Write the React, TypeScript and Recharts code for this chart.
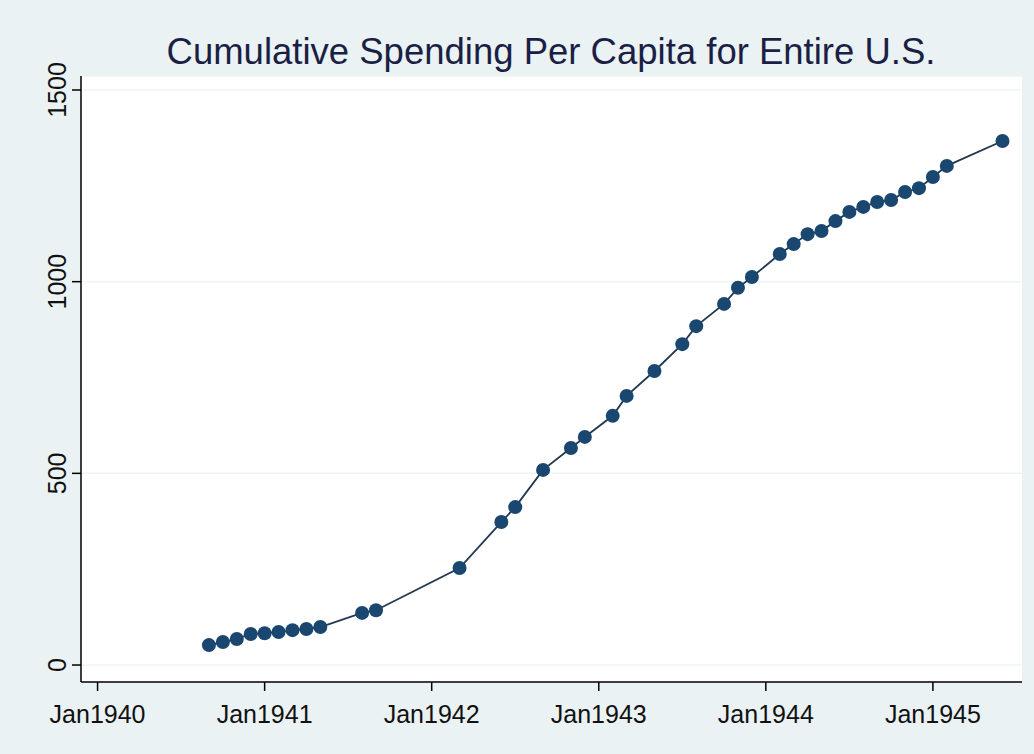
import React from "react";
import { LineChart, Line, XAxis, YAxis, CartesianGrid } from "recharts";

const months: string[] = [
  "1940-09", "1940-10", "1940-11", "1940-12",
  "1941-01", "1941-02", "1941-03", "1941-04", "1941-05", "1941-08", "1941-09",
  "1942-03", "1942-06", "1942-07", "1942-09", "1942-11", "1942-12",
  "1943-02", "1943-03", "1943-05", "1943-07", "1943-08", "1943-10", "1943-11", "1943-12",
  "1944-02", "1944-03", "1944-04", "1944-05", "1944-06", "1944-07", "1944-08", "1944-09",
  "1944-10", "1944-11", "1944-12",
  "1945-01", "1945-02", "1945-06",
];

const spending: number[] = [
  52, 60, 68, 81,
  83, 86, 91, 94, 99, 136, 143,
  253, 373, 412, 509, 566, 595,
  650, 702, 767, 837, 884, 942, 984, 1012,
  1072, 1098, 1124, 1132, 1158, 1182, 1195, 1208,
  1213, 1234, 1244,
  1273, 1302, 1367,
];

const xTicks: number[] = [0, 12, 24, 36, 48, 60];
const xTickLabels: string[] = ["Jan1940", "Jan1941", "Jan1942", "Jan1943", "Jan1944", "Jan1945"];
const yTicks: number[] = [0, 500, 1000, 1500];

const title = "Cumulative Spending Per Capita for Entire U.S.";

const monthIndex = (s: string) => {
  const [y, m] = s.split("-").map(Number);
  return (y - 1940) * 12 + (m - 1);
};

const data = months.map((d, i) => ({ m: monthIndex(d), v: spending[i] }));

const NAVY = "#1A476F";
const FONT = '"Liberation Sans", Arial, Helvetica, sans-serif';

const XTick = (props: any) => {
  const { x, payload } = props;
  const idx = xTicks.indexOf(payload.value);
  return (
    <text x={x} y={723} textAnchor="middle" fontSize={25} fill="#111" fontFamily={FONT}>
      {idx >= 0 ? xTickLabels[idx] : ""}
    </text>
  );
};

const YTick = (props: any) => {
  const { y, payload } = props;
  const bx = 66;
  return (
    <text
      x={bx}
      y={y}
      textAnchor="middle"
      fontSize={25}
      fill="#111"
      fontFamily={FONT}
      transform={`rotate(-90, ${bx}, ${y})`}
    >
      {payload.value}
    </text>
  );
};

export default function App() {
  return (
    <div
      style={{
        position: "absolute",
        left: 0,
        top: 0,
        width: 1034,
        height: 754,
        background: "#EAF2F3",
        fontFamily: FONT,
        overflow: "hidden",
      }}
    >
      <LineChart
        width={1034}
        height={754}
        data={data}
        margin={{ top: 76, right: 12, bottom: 0, left: 0 }}
      >
        <CartesianGrid
          vertical={false}
          horizontal={true}
          stroke="#EEF4F5"
          strokeWidth={1.5}
          fill="#FFFFFF"
        />
        <XAxis
          dataKey="m"
          type="number"
          domain={[-1.19, 66.4]}
          ticks={xTicks}
          allowDataOverflow
          height={72}
          tickSize={9}
          axisLine={{ stroke: "#000", strokeWidth: 1.5 }}
          tickLine={{ stroke: "#000", strokeWidth: 1.5 }}
          tick={<XTick />}
          interval={0}
        />
        <YAxis
          type="number"
          domain={[-44.3, 1536.5]}
          ticks={yTicks}
          allowDataOverflow
          width={81}
          tickSize={9}
          axisLine={{ stroke: "#000", strokeWidth: 1.5 }}
          tickLine={{ stroke: "#000", strokeWidth: 1.5 }}
          tick={<YTick />}
          interval={0}
        />
        <Line
          type="linear"
          dataKey="v"
          stroke="#22384F"
          strokeWidth={1.8}
          dot={{ r: 7, fill: NAVY, stroke: NAVY, strokeWidth: 0 }}
          isAnimationActive={false}
        />
      </LineChart>
      <svg
        width={1034}
        height={80}
        style={{ position: "absolute", left: 0, top: 0, pointerEvents: "none" }}
      >
        <text
          x={551}
          y={64}
          textAnchor="middle"
          fontSize={36.5}
          fill="#1B1F45"
          fontFamily={FONT}
        >
          {title}
        </text>
      </svg>
    </div>
  );
}
